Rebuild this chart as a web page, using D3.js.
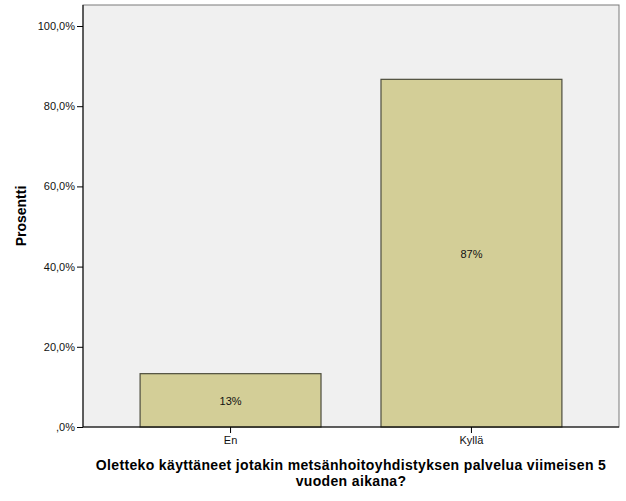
<!DOCTYPE html>
<html>
<head>
<meta charset="utf-8">
<script src="https://cdn.jsdelivr.net/npm/d3@7"></script>
<style>
  body { margin: 0; background: #fff; }
  text { font-family: Arial, "Liberation Sans", sans-serif; }
</style>
</head>
<body>
<svg id="chart"></svg>
<script>
// data
const categories = ["En", "Kyllä"];
const percents = [13.3, 86.7];
const barLabels = ["13%", "87%"];
const yTicks = [0, 20, 40, 60, 80, 100];

const width = 626;
const height = 501;
const margin = { top: 5, right: 7, bottom: 74, left: 83 };

const svg = d3.select("#chart").attr("width", width).attr("height", height);

const x = d3.scaleBand()
  .domain(categories)
  .range([margin.left, width - margin.right])
  .paddingInner(0.249)
  .paddingOuter(0.237);

const y = d3.scaleLinear()
  .domain([0, 100])
  .range([height - margin.bottom, margin.top + 21]);

// plot background + frame
svg.append("rect")
  .attr("x", margin.left)
  .attr("y", margin.top)
  .attr("width", width - margin.right - margin.left)
  .attr("height", height - margin.bottom - margin.top)
  .attr("fill", "#f0f0f0")
  .attr("stroke", "#7a7a7a")
  .attr("stroke-width", 1);

// bars
svg.selectAll(".bar")
  .data(percents)
  .join("rect")
  .attr("class", "bar")
  .attr("x", (d, i) => x(categories[i]))
  .attr("y", d => y(d))
  .attr("width", x.bandwidth())
  .attr("height", d => y(0) - y(d))
  .attr("fill", "#d3ce97")
  .attr("stroke", "#4d4d3d")
  .attr("stroke-width", 1.2);

svg.selectAll(".bar-label")
  .data(percents)
  .join("text")
  .attr("class", "bar-label")
  .attr("x", (d, i) => x(categories[i]) + x.bandwidth() / 2)
  .attr("y", d => (y(d) + y(0)) / 2 + 5)
  .attr("text-anchor", "middle")
  .attr("font-size", "11px")
  .attr("fill", "#111")
  .text((d, i) => barLabels[i]);

// y axis
const fmt = v => (v === 0 ? ",0%" : v.toFixed(1).replace(".", ",") + "%");
const yAxis = svg.append("g")
  .attr("transform", `translate(${margin.left},0)`)
  .call(d3.axisLeft(y).tickValues(yTicks).tickFormat(fmt).tickSize(6).tickPadding(2));
yAxis.select(".domain").attr("stroke", "#000").attr("d", `M0,${margin.top}V${y(0)}`);
yAxis.selectAll(".tick line").attr("stroke", "#000");
yAxis.selectAll("text").attr("font-size", "11px").attr("fill", "#111")
  .style("font-family", "Arial, 'Liberation Sans', sans-serif");

// x axis
const xAxis = svg.append("g")
  .attr("transform", `translate(0,${y(0)})`)
  .call(d3.axisBottom(x).tickSize(6).tickPadding(3));
xAxis.select(".domain").attr("stroke", "#000").attr("d", `M${margin.left},0H${width - margin.right}`);
xAxis.selectAll(".tick line").attr("stroke", "#000");
xAxis.selectAll("text").attr("font-size", "11px").attr("fill", "#111")
  .style("font-family", "Arial, 'Liberation Sans', sans-serif");

// axis titles
svg.append("text")
  .attr("transform", `translate(26,${(margin.top + y(0)) / 2}) rotate(-90)`)
  .attr("text-anchor", "middle")
  .attr("font-size", "14px")
  .attr("font-weight", "bold")
  .attr("fill", "#000")
  .text("Prosentti");

const titleX = (margin.left + width - margin.right) / 2;
svg.append("text")
  .attr("x", titleX)
  .attr("y", 470)
  .attr("text-anchor", "middle")
  .attr("font-size", "14px")
  .attr("font-weight", "bold")
  .attr("letter-spacing", "0.35px")
  .attr("fill", "#000")
  .text("Oletteko käyttäneet jotakin metsänhoitoyhdistyksen palvelua viimeisen 5");
svg.append("text")
  .attr("x", titleX)
  .attr("y", 486)
  .attr("text-anchor", "middle")
  .attr("font-size", "14px")
  .attr("font-weight", "bold")
  .attr("letter-spacing", "0.35px")
  .attr("fill", "#000")
  .text("vuoden aikana?");
</script>
</body>
</html>
